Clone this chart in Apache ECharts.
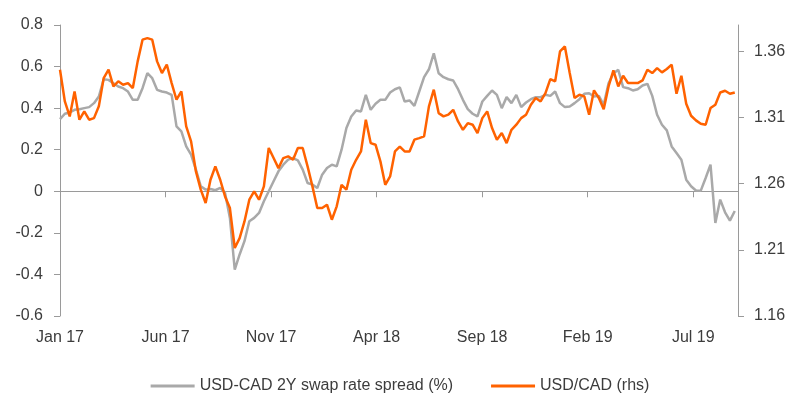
<!DOCTYPE html>
<html>
<head>
<meta charset="utf-8">
<script src="https://cdn.jsdelivr.net/npm/echarts@6/dist/echarts.min.js"></script>
<style>
  html, body { margin: 0; padding: 0; background: #fff; }
  #main { width: 800px; height: 412px; }
</style>
</head>
<body>
<div id="main"></div>
<script>
// weekly readings, first week starts Jan 2017
var spread = [
    0.347,0.373,0.379,0.392,0.395,0.400,0.405,0.424,0.456,0.539,
    0.536,0.520,0.504,0.496,0.480,0.440,0.440,0.496,0.568,0.544,
    0.488,0.480,0.475,0.464,0.312,0.288,0.216,0.176,0.104,0.024,
    0.008,0.011,0.005,0.016,-0.008,-0.128,
    -0.377,-0.304,-0.240,-0.144,-0.128,-0.104,-0.048,0.000,0.048,0.096,
    0.128,0.152,0.160,0.149,0.104,0.040,0.032,0.016,0.080,0.112,
    0.128,0.120,0.200,0.304,0.360,0.389,0.384,0.464,0.392,0.421,
    0.440,0.440,0.475,0.491,0.500,
    0.432,0.437,0.411,0.480,0.549,0.587,0.664,0.568,0.549,0.539,
    0.533,0.491,0.440,0.395,0.373,0.360,0.432,0.459,0.485,0.464,
    0.400,0.453,0.424,0.464,0.405,0.427,0.443,0.453,0.453,0.464,
    0.459,0.480,0.424,0.405,0.408,
    0.424,0.443,0.469,0.472,0.456,0.459,0.416,0.520,0.568,0.584,
    0.501,0.496,0.485,0.491,0.509,0.517,0.459,0.368,0.320,0.293,
    0.216,0.184,0.152,0.056,0.024,0.004,0.003,0.064,0.128,-0.152,
    -0.040,-0.101,-0.141,-0.095
];
var usdcad = [
    1.3462,1.3222,1.3109,1.3298,1.3084,1.3147,1.3084,1.3096,1.3185,1.3399,
    1.3462,1.3336,1.3374,1.3348,1.3361,1.3323,1.3525,1.3689,1.3701,1.3689,
    1.3525,1.3437,1.3500,1.3361,1.3235,1.3298,1.3033,1.2920,1.2693,1.2555,
    1.2454,1.2630,1.2731,1.2630,1.2504,1.2416,
    1.2114,1.2189,1.2315,1.2479,1.2542,1.2479,1.2580,1.2870,1.2794,1.2718,
    1.2794,1.2807,1.2781,1.2870,1.2870,1.2731,1.2580,1.2416,1.2416,1.2441,
    1.2328,1.2429,1.2592,1.2555,1.2706,1.2781,1.2844,1.3084,1.2907,1.2895,
    1.2769,1.2592,1.2655,1.2844,1.2880,
    1.2844,1.2844,1.2933,1.2945,1.2958,1.3185,1.3311,1.3134,1.3109,1.3122,
    1.3159,1.3071,1.3008,1.3058,1.3046,1.2983,1.3096,1.3147,1.3021,1.2933,
    1.2983,1.2907,1.3008,1.3046,1.3096,1.3122,1.3197,1.3248,1.3222,1.3285,
    1.3391,1.3374,1.3600,1.3638,1.3437,
    1.3248,1.3273,1.3260,1.3122,1.3306,1.3248,1.3164,1.3336,1.3457,1.3336,
    1.3416,1.3361,1.3361,1.3361,1.3381,1.3462,1.3437,1.3474,1.3442,1.3467,
    1.3500,1.3280,1.3416,1.3205,1.3114,1.3079,1.3053,1.3046,1.3172,1.3197,
    1.3290,1.3303,1.3280,1.3290
];
var tickMonths = [0, 5, 10, 15, 20, 25, 30];
var tickLabels = ['Jan 17', 'Jun 17', 'Nov 17', 'Apr 18', 'Sep 18', 'Feb 19', 'Jul 19'];
var rhsTicks = [1.16, 1.21, 1.26, 1.31, 1.36];

// x position of each weekly reading, in months since Jan 2017
function toPairs(arr) {
    return arr.map(function (v, i) { return [i * 7 / 30.4375, v]; });
}

var textColor = '#3c3c3c';
var axisColor = '#9a9a9a';
var font = 'Liberation Sans, Arial, sans-serif';

var myChart = echarts.init(document.getElementById('main'));
myChart.setOption({
    animation: false,
    backgroundColor: '#fff',
    textStyle: { fontFamily: font },
    grid: { left: 60, right: 62, top: 25, bottom: 96 },
    legend: {
        left: 'center',
        top: 373,
        itemWidth: 44,
        itemHeight: 3,
        itemGap: 38,
        icon: 'rect',
        textStyle: { color: textColor, fontSize: 16, fontFamily: font },
        data: ['USD-CAD 2Y swap rate spread (%)', 'USD/CAD (rhs)']
    },
    xAxis: [
        {
            type: 'value',
            min: 0,
            max: 32.12,
            axisLine: { onZero: true, lineStyle: { color: axisColor, width: 1 } },
            axisTick: { show: true, length: 6, customValues: tickMonths, lineStyle: { color: axisColor } },
            axisLabel: { show: false },
            splitLine: { show: false }
        },
        {
            type: 'value',
            position: 'bottom',
            min: 0,
            max: 32.12,
            axisLine: { show: false, onZero: false },
            axisTick: { show: false },
            axisLabel: {
                margin: 14,
                color: textColor,
                fontSize: 16,
                fontFamily: font,
                customValues: tickMonths,
                formatter: function (v) {
                    var i = tickMonths.indexOf(Math.round(v));
                    return i >= 0 ? tickLabels[i] : '';
                }
            },
            splitLine: { show: false }
        }
    ],
    yAxis: [
        {
            type: 'value',
            position: 'left',
            min: -0.6,
            max: 0.8,
            interval: 0.2,
            axisLine: { show: true, onZero: false, lineStyle: { color: axisColor } },
            axisTick: { show: true, length: 6, lineStyle: { color: axisColor } },
            axisLabel: {
                margin: 17,
                color: textColor,
                fontSize: 16,
                fontFamily: font,
                formatter: function (v) { return String(Math.round(v * 10) / 10); }
            },
            splitLine: { show: false }
        },
        {
            type: 'value',
            position: 'right',
            min: 1.16,
            max: 1.38,
            axisLine: { show: true, onZero: false, lineStyle: { color: axisColor } },
            axisTick: { show: true, length: 6, customValues: rhsTicks, lineStyle: { color: axisColor } },
            axisLabel: {
                margin: 16,
                color: textColor,
                fontSize: 16,
                fontFamily: font,
                customValues: rhsTicks,
                formatter: function (v) { return v.toFixed(2); }
            },
            splitLine: { show: false }
        }
    ],
    series: [
        {
            name: 'USD-CAD 2Y swap rate spread (%)',
            type: 'line',
            xAxisIndex: 0,
            yAxisIndex: 0,
            showSymbol: false,
            symbol: 'none',
            color: '#a9a9a9',
            lineStyle: { width: 2.5, color: '#a9a9a9' },
            data: toPairs(spread)
        },
        {
            name: 'USD/CAD (rhs)',
            type: 'line',
            xAxisIndex: 0,
            yAxisIndex: 1,
            showSymbol: false,
            symbol: 'none',
            color: '#ff6200',
            lineStyle: { width: 2.5, color: '#ff6200' },
            data: toPairs(usdcad)
        }
    ]
});
</script>
</body>
</html>
